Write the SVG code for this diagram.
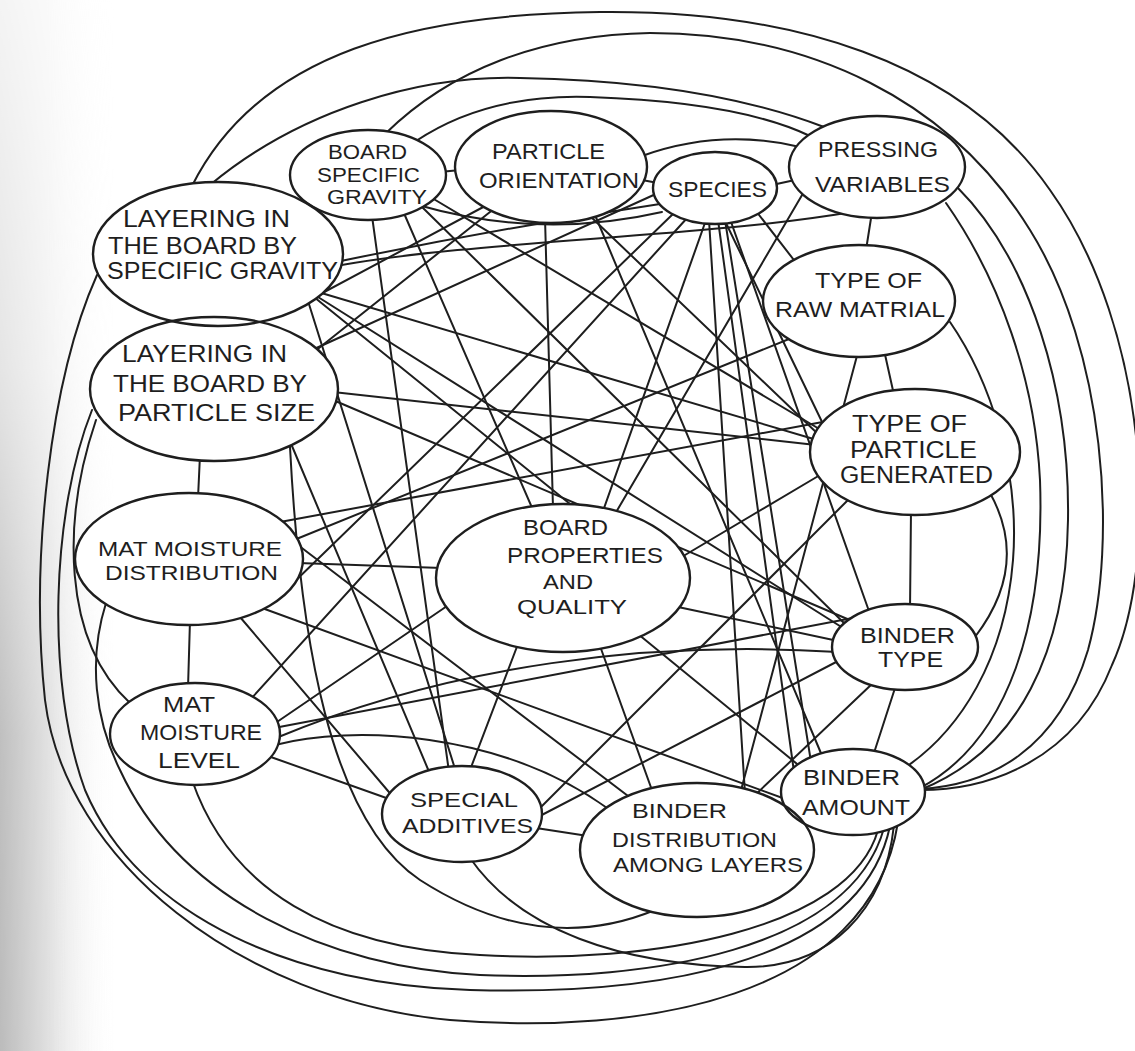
<svg xmlns="http://www.w3.org/2000/svg" width="1135" height="1051" viewBox="0 0 1135 1051">
<defs>
<style>
.c{fill:none;stroke:#1e1e1e;stroke-width:2;stroke-linecap:round}
.n{fill:none;stroke:#1e1e1e;stroke-width:2.4}
.w{fill:#fff;stroke:none}
.t{font-family:"Liberation Sans",Arial,sans-serif;font-size:22px;fill:#1e1e1e;text-anchor:middle}
</style>
<linearGradient id="gh" x1="0" y1="0" x2="1" y2="0">
<stop offset="0" stop-color="#b4b4b4"/>
<stop offset="0.4" stop-color="#dcdcdc"/>
<stop offset="1" stop-color="#ffffff" stop-opacity="0"/>
</linearGradient>
<linearGradient id="gv" x1="0" y1="0" x2="0" y2="1">
<stop offset="0" stop-color="#fff" stop-opacity="0.15"/>
<stop offset="0.35" stop-color="#fff" stop-opacity="0.35"/>
<stop offset="0.7" stop-color="#fff" stop-opacity="0.85"/>
<stop offset="1" stop-color="#fff" stop-opacity="0.9"/>
</linearGradient>
<mask id="mv"><rect x="0" y="0" width="120" height="1051" fill="url(#gv)"/></mask>
</defs>
<rect x="0" y="0" width="1135" height="1051" fill="#fff"/>
<rect x="0" y="0" width="120" height="1051" fill="url(#gh)" mask="url(#mv)"/>

<g id="connectors" class="c">
<!-- top arcs -->
<path d="M192,186 C260,50 420,14 600,12 C790,10 960,60 1050,190 C1150,330 1160,560 1112,665 C1075,760 990,790 920,790"/>
<path d="M385,134 C450,70 540,35 650,33 C810,33 950,100 1030,230 C1105,350 1118,540 1088,650 C1058,750 990,785 920,789"/>
<path d="M210,185 C300,110 420,75 520,78 C640,80 740,95 824,127"/>
<path d="M416,141 C470,105 530,95 590,97 C680,100 760,112 810,136"/>
<path d="M642,156 Q720,128 800,147"/>
<path d="M957,187 C1030,260 1070,390 1068,520 C1066,650 1020,750 920,790"/>
<path d="M946,203 C1000,280 1035,380 1040,480 C1045,620 1010,740 920,788"/>
<path d="M950,322 C990,380 1020,470 1013,560 C1005,660 960,730 906,767"/>
<!-- short links -->
<line x1="440" y1="172" x2="460" y2="170"/>
<line x1="642" y1="180" x2="658" y2="183"/>
<line x1="772" y1="185" x2="795" y2="180"/>
<line x1="872" y1="212" x2="866" y2="250"/>
<line x1="884" y1="350" x2="894" y2="395"/>
<line x1="911" y1="510" x2="910" y2="610"/>
<path d="M990,493 Q1030,565 975,637"/>
<line x1="896" y1="685" x2="873" y2="756"/>
<line x1="200" y1="455" x2="198" y2="498"/>
<line x1="190" y1="620" x2="188" y2="688"/>
<line x1="268" y1="756" x2="392" y2="800"/>
<line x1="536" y1="828" x2="588" y2="836"/>
<!-- board properties -->
<line x1="298" y1="563" x2="442" y2="568"/>
<line x1="545" y1="218" x2="553" y2="508"/>
<line x1="678" y1="607" x2="838" y2="641"/>
<line x1="518" y1="644" x2="470" y2="770"/>
<line x1="600" y1="646" x2="653" y2="793"/>
<line x1="638" y1="634" x2="802" y2="768"/>
<line x1="680" y1="558" x2="820" y2="475"/>
<line x1="603" y1="511" x2="706" y2="220"/>
<line x1="533" y1="510" x2="403" y2="211"/>
<line x1="450" y1="604" x2="274" y2="724"/>
<line x1="615" y1="514" x2="805" y2="190"/>
<line x1="575" y1="508" x2="314" y2="297"/>
<!-- species -->
<line x1="675" y1="212" x2="288" y2="588"/>
<line x1="688" y1="217" x2="250" y2="700"/>
<line x1="709" y1="220" x2="745" y2="794"/>
<line x1="718" y1="220" x2="794" y2="772"/>
<line x1="725" y1="220" x2="811" y2="762"/>
<line x1="730" y1="219" x2="870" y2="614"/>
<line x1="724" y1="219" x2="824" y2="426"/>
<line x1="756" y1="211" x2="797" y2="264"/>
<path d="M336,262 Q500,228 660,204"/>
<line x1="312" y1="350" x2="658" y2="193"/>
<path d="M336,266 C480,240 700,238 852,212"/>
<path d="M418,205 Q540,240 662,212"/>
<!-- raw material -->
<line x1="294" y1="540" x2="794" y2="337"/>
<line x1="740" y1="794" x2="858" y2="352"/>
<!-- particle generated -->
<line x1="318" y1="292" x2="817" y2="440"/>
<line x1="333" y1="392" x2="816" y2="445"/>
<line x1="280" y1="522" x2="828" y2="421"/>
<line x1="536" y1="812" x2="850" y2="498"/>
<line x1="590" y1="216" x2="819" y2="435"/>
<line x1="432" y1="198" x2="821" y2="430"/>
<!-- binder type -->
<line x1="318" y1="297" x2="843" y2="628"/>
<line x1="333" y1="400" x2="852" y2="621"/>
<line x1="420" y1="205" x2="846" y2="625"/>
<line x1="274" y1="728" x2="858" y2="617"/>
<path d="M276,738 C450,665 650,640 838,652"/>
<line x1="536" y1="818" x2="840" y2="660"/>
<line x1="753" y1="797" x2="873" y2="683"/>
<!-- binder amount -->
<line x1="262" y1="608" x2="788" y2="800"/>
<line x1="595" y1="215" x2="823" y2="758"/>
<!-- binder distribution -->
<line x1="294" y1="542" x2="632" y2="799"/>
<path d="M275,745 C350,725 500,730 610,810"/>
<!-- special additives -->
<line x1="292" y1="446" x2="430" y2="774"/>
<line x1="372" y1="216" x2="449" y2="772"/>
<line x1="240" y1="617" x2="394" y2="798"/>
<line x1="308" y1="301" x2="456" y2="772"/>
<!-- particle orientation to layering -->
<line x1="487" y1="205" x2="300" y2="305"/>
<line x1="495" y1="208" x2="314" y2="352"/>
<!-- left and bottom arcs -->
<path d="M97,275 C50,380 30,560 45,700 C65,860 240,1000 450,1020 C640,1035 870,1000 898,822"/>
<path d="M92,410 C52,510 45,680 85,790 C140,920 300,985 470,990 C640,995 860,970 890,826"/>
<path d="M96,420 C62,520 62,640 130,703"/>
<path d="M106,603 C88,660 95,720 120,770 C180,900 330,968 480,975 C650,982 850,950 884,828"/>
<path d="M192,780 C230,890 330,948 480,955 C650,965 850,930 878,830"/>
<path d="M470,858 C520,930 620,965 745,967 C830,968 885,910 894,825"/>
<path d="M290,447 C300,640 330,820 420,880 C490,925 570,945 655,910"/>
</g>

<g id="covers">
<ellipse class="w" cx="368" cy="175" rx="78" ry="45"/>
<ellipse class="w" cx="551" cy="167" rx="96" ry="56"/>
<ellipse class="w" cx="715" cy="188" rx="62" ry="36"/>
<ellipse class="w" cx="877" cy="167" rx="88" ry="51"/>
<ellipse class="w" cx="218" cy="254" rx="125" ry="72"/>
<ellipse class="w" cx="859" cy="301" rx="96" ry="56"/>
<ellipse class="w" cx="214" cy="389" rx="124" ry="72"/>
<ellipse class="w" cx="915" cy="452" rx="105" ry="63"/>
<ellipse class="w" cx="189" cy="559" rx="114" ry="66"/>
<ellipse class="w" cx="563" cy="578" rx="127" ry="74"/>
<ellipse class="w" cx="905" cy="647" rx="73" ry="43"/>
<ellipse class="w" cx="195" cy="734" rx="85" ry="51"/>
<ellipse class="w" cx="462" cy="814" rx="80" ry="48"/>
<ellipse class="w" cx="697" cy="850" rx="117" ry="67"/>
<ellipse class="w" cx="853" cy="792" rx="72" ry="43"/>
</g>

<g id="node-board-specific-gravity">
<ellipse class="n" cx="368" cy="175" rx="78" ry="45"/>
<text class="t" style="font-size:20px" x="367.5" y="159" textLength="79" lengthAdjust="spacingAndGlyphs">BOARD</text>
<text class="t" style="font-size:20px" x="368.5" y="182" textLength="103" lengthAdjust="spacingAndGlyphs">SPECIFIC</text>
<text class="t" style="font-size:20px" x="377" y="204" textLength="100" lengthAdjust="spacingAndGlyphs">GRAVITY</text>
</g>
<g id="node-particle-orientation">
<ellipse class="n" cx="551" cy="167" rx="96" ry="56"/>
<text class="t" x="548.5" y="159" textLength="113" lengthAdjust="spacingAndGlyphs">PARTICLE</text>
<text class="t" x="559" y="188" textLength="160" lengthAdjust="spacingAndGlyphs">ORIENTATION</text>
</g>
<g id="node-species">
<ellipse class="n" cx="715" cy="188" rx="62" ry="36"/>
<text class="t" x="717.5" y="197" textLength="99" lengthAdjust="spacingAndGlyphs">SPECIES</text>
</g>
<g id="node-pressing-variables">
<ellipse class="n" cx="877" cy="167" rx="88" ry="51"/>
<text class="t" x="878" y="157" textLength="120" lengthAdjust="spacingAndGlyphs">PRESSING</text>
<text class="t" x="882.5" y="192" textLength="135" lengthAdjust="spacingAndGlyphs">VARIABLES</text>
</g>
<g id="node-layering-specific-gravity">
<ellipse class="n" cx="218" cy="254" rx="125" ry="72"/>
<text class="t" style="font-size:24px" x="206.5" y="227" textLength="167" lengthAdjust="spacingAndGlyphs">LAYERING IN</text>
<text class="t" style="font-size:24px" x="202.5" y="254" textLength="189" lengthAdjust="spacingAndGlyphs">THE BOARD BY</text>
<text class="t" style="font-size:24px" x="222.5" y="279" textLength="231" lengthAdjust="spacingAndGlyphs">SPECIFIC GRAVITY</text>
</g>
<g id="node-type-raw-material">
<ellipse class="n" cx="859" cy="301" rx="96" ry="56"/>
<text class="t" x="868.5" y="288" textLength="107" lengthAdjust="spacingAndGlyphs">TYPE OF</text>
<text class="t" x="860" y="317" textLength="170" lengthAdjust="spacingAndGlyphs">RAW MATRIAL</text>
</g>
<g id="node-layering-particle-size">
<ellipse class="n" cx="214" cy="389" rx="124" ry="72"/>
<text class="t" style="font-size:24px" x="204.5" y="362" textLength="165" lengthAdjust="spacingAndGlyphs">LAYERING IN</text>
<text class="t" style="font-size:24px" x="210" y="392" textLength="194" lengthAdjust="spacingAndGlyphs">THE BOARD BY</text>
<text class="t" style="font-size:24px" x="216.5" y="421" textLength="197" lengthAdjust="spacingAndGlyphs">PARTICLE SIZE</text>
</g>
<g id="node-type-particle-generated">
<ellipse class="n" cx="915" cy="452" rx="105" ry="63"/>
<text class="t" style="font-size:23px" x="909.5" y="432" textLength="115" lengthAdjust="spacingAndGlyphs">TYPE OF</text>
<text class="t" style="font-size:23px" x="913.5" y="458" textLength="127" lengthAdjust="spacingAndGlyphs">PARTICLE</text>
<text class="t" style="font-size:23px" x="916.5" y="483" textLength="153" lengthAdjust="spacingAndGlyphs">GENERATED</text>
</g>
<g id="node-mat-moisture-distribution">
<ellipse class="n" cx="189" cy="559" rx="114" ry="66"/>
<text class="t" style="font-size:20px" x="190" y="556" textLength="184" lengthAdjust="spacingAndGlyphs">MAT MOISTURE</text>
<text class="t" style="font-size:20px" x="191.5" y="580" textLength="173" lengthAdjust="spacingAndGlyphs">DISTRIBUTION</text>
</g>
<g id="node-board-properties-quality">
<ellipse class="n" cx="563" cy="578" rx="127" ry="74"/>
<text class="t" x="565.5" y="535" textLength="85" lengthAdjust="spacingAndGlyphs">BOARD</text>
<text class="t" x="585" y="563" textLength="156" lengthAdjust="spacingAndGlyphs">PROPERTIES</text>
<text class="t" style="font-size:20px" x="568" y="589" textLength="50" lengthAdjust="spacingAndGlyphs">AND</text>
<text class="t" style="font-size:20px" x="572" y="614" textLength="110" lengthAdjust="spacingAndGlyphs">QUALITY</text>
</g>
<g id="node-binder-type">
<ellipse class="n" cx="905" cy="647" rx="73" ry="43"/>
<text class="t" x="907.5" y="643" textLength="95" lengthAdjust="spacingAndGlyphs">BINDER</text>
<text class="t" x="910.5" y="667" textLength="65" lengthAdjust="spacingAndGlyphs">TYPE</text>
</g>
<g id="node-mat-moisture-level">
<ellipse class="n" cx="195" cy="734" rx="85" ry="51"/>
<text class="t" x="189" y="712" textLength="52" lengthAdjust="spacingAndGlyphs">MAT</text>
<text class="t" x="201" y="740" textLength="122" lengthAdjust="spacingAndGlyphs">MOISTURE</text>
<text class="t" x="199" y="768" textLength="82" lengthAdjust="spacingAndGlyphs">LEVEL</text>
</g>
<g id="node-special-additives">
<ellipse class="n" cx="462" cy="814" rx="80" ry="48"/>
<text class="t" style="font-size:21px" x="464" y="807" textLength="108" lengthAdjust="spacingAndGlyphs">SPECIAL</text>
<text class="t" style="font-size:21px" x="467.5" y="833" textLength="131" lengthAdjust="spacingAndGlyphs">ADDITIVES</text>
</g>
<g id="node-binder-distribution">
<ellipse class="n" cx="697" cy="850" rx="117" ry="67"/>
<text class="t" style="font-size:21px" x="679.5" y="818" textLength="95" lengthAdjust="spacingAndGlyphs">BINDER</text>
<text class="t" style="font-size:21px" x="694.5" y="847" textLength="165" lengthAdjust="spacingAndGlyphs">DISTRIBUTION</text>
<text class="t" style="font-size:21px" x="708" y="872" textLength="190" lengthAdjust="spacingAndGlyphs">AMONG LAYERS</text>
</g>
<g id="node-binder-amount">
<ellipse class="n" cx="853" cy="792" rx="72" ry="43"/>
<text class="t" x="851.5" y="785" textLength="97" lengthAdjust="spacingAndGlyphs">BINDER</text>
<text class="t" x="856" y="815" textLength="108" lengthAdjust="spacingAndGlyphs">AMOUNT</text>
</g>
</svg>
